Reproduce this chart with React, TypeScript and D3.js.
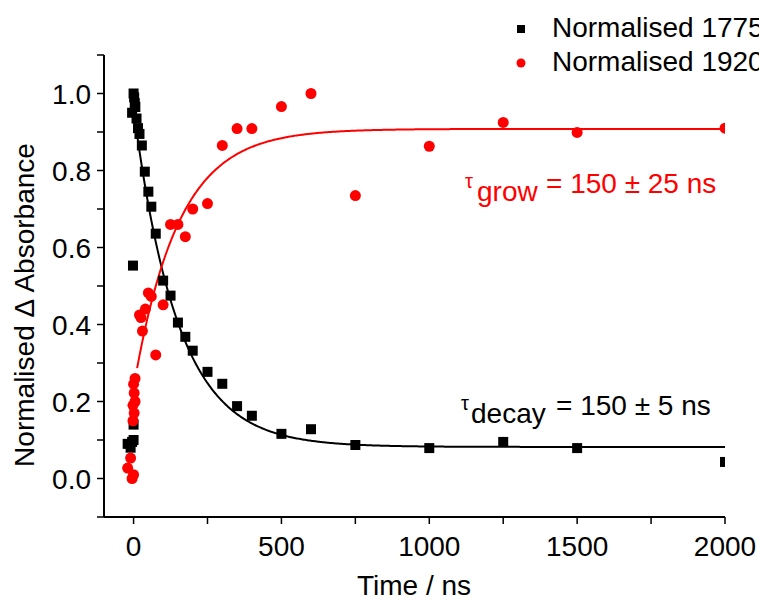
import * as d3 from "d3";

// Normalised 1775 cm-1 (black squares): [time ns, value]
const decayTimes = [-20, -10, -5, 0, 0, -2, 0, 2, 4, -5, 6, 10, 15, 20, 28, 38, 50, 60, 75, 100, 125, 150, 175, 200, 250, 300, 350, 400, 500, 600, 750, 1000, 1250, 1500, 2000];
const decayValues = [0.09, 0.08, 0.095, 0.1, 0.14, 0.553, 1.0, 0.99, 0.975, 0.95, 0.965, 0.935, 0.91, 0.895, 0.865, 0.797, 0.745, 0.706, 0.636, 0.514, 0.475, 0.405, 0.368, 0.332, 0.277, 0.246, 0.188, 0.163, 0.116, 0.128, 0.087, 0.079, 0.095, 0.079, 0.043];

// Normalised 1920 cm-1 (red circles)
const growTimes = [-20, -10, -5, 0, 5, 0, 2, 5, -2, 2, -2, 20, 25, 30, 40, 50, 60, 75, 100, 125, 150, 175, 200, 250, 300, 350, 400, 500, 600, 750, 1000, 1250, 1500, 2000];
const growValues = [0.027, 0.053, 0.0, 0.01, 0.26, 0.245, 0.222, 0.2, 0.19, 0.17, 0.15, 0.425, 0.418, 0.383, 0.44, 0.482, 0.473, 0.321, 0.451, 0.66, 0.66, 0.628, 0.7, 0.714, 0.865, 0.909, 0.909, 0.966, 1.0, 0.735, 0.863, 0.925, 0.899, 0.91];

// fit parameters
const decayFit = { y0: 0.082, a: 0.878, tau: 150, start: 0 };
const growFit = { y0: 0.908, a: 0.673, tau: 150, start: 10 };

const xTicks = [0, 500, 1000, 1500, 2000];
const xMinor = [250, 750, 1250, 1750];
const yTicks = [0.0, 0.2, 0.4, 0.6, 0.8, 1.0];
const yMinor = [-0.1, 0.1, 0.3, 0.5, 0.7, 0.9, 1.1];

const FONT = "'Liberation Sans', Arial, sans-serif";

export default function App() {
  const left = 104;
  const right = 725;
  const top = 55;
  const bottom = 517;

  const x = d3.scaleLinear().domain([-100, 2000]).range([left, right]);
  const y = d3.scaleLinear().domain([-0.1, 1.1]).range([bottom, top]);

  const fitTimes = d3.range(0, 2001, 4);
  const line = d3
    .line<number[]>()
    .x((d) => x(d[0]))
    .y((d) => y(d[1]));

  const decayLine = fitTimes
    .filter((t) => t >= decayFit.start)
    .map((t) => [t, decayFit.y0 + decayFit.a * Math.exp(-t / decayFit.tau)]);
  const growLine = fitTimes
    .filter((t) => t >= growFit.start)
    .map((t) => [t, growFit.y0 - growFit.a * Math.exp(-t / growFit.tau)]);

  const sq = 10;

  return (
    <svg
      width={759}
      height={603}
      style={{ position: "absolute", left: 0, top: 0, background: "#fff" }}
      fontFamily={FONT}
    >
      <defs>
        <clipPath id="plot">
          <rect x={left} y={top - 10} width={right - left} height={bottom - top + 10} />
        </clipPath>
      </defs>

      {/* axes */}
      <line x1={left} x2={left} y1={top} y2={bottom} stroke="#000" strokeWidth={2} />
      <line x1={left} x2={right} y1={bottom} y2={bottom} stroke="#000" strokeWidth={2} />

      {yTicks.concat(yMinor).map((t) => (
        <line key={"yt" + t} x1={left - 7} x2={left} y1={y(t)} y2={y(t)} stroke="#000" strokeWidth={1.5} />
      ))}
      {yTicks.map((t) => (
        <text key={"yl" + t} x={left - 13} y={y(t) + 10} textAnchor="end" fontSize={28} fill="#000">
          {t.toFixed(1)}
        </text>
      ))}

      {xTicks.concat(xMinor).map((t) => (
        <line key={"xt" + t} x1={x(t)} x2={x(t)} y1={bottom} y2={bottom + 7} stroke="#000" strokeWidth={1.5} />
      ))}
      {xTicks.map((t) => (
        <text key={"xl" + t} x={x(t)} y={556} textAnchor="middle" fontSize={28} fill="#000">
          {t}
        </text>
      ))}

      <text x={414} y={595} textAnchor="middle" fontSize={28} fill="#000">
        Time / ns
      </text>
      <text
        transform={`translate(34,305) rotate(-90)`}
        textAnchor="middle"
        fontSize={28}
        fill="#000"
      >
        Normalised Δ Absorbance
      </text>

      <g clipPath="url(#plot)">
        <path d={line(decayLine) ?? ""} fill="none" stroke="#000" strokeWidth={2} />
        <path d={line(growLine) ?? ""} fill="none" stroke="#ff0000" strokeWidth={2} />

        {decayTimes.map((t, i) => (
          <rect
            key={"d" + i}
            x={x(t) - sq / 2}
            y={y(decayValues[i]) - sq / 2}
            width={sq}
            height={sq}
            fill="#000"
          />
        ))}
        {growTimes.map((t, i) => (
          <circle key={"g" + i} cx={x(t)} cy={y(growValues[i])} r={5.5} fill="#ff0000" />
        ))}
      </g>

      {/* annotations */}
      <g fill="#ff0000">
        <text x={465} y={188} fontSize={20}>τ</text>
        <text x={477} y={201} fontSize={28}>grow</text>
        <text x={546} y={193} fontSize={28}>= 150 ± 25 ns</text>
      </g>
      <g fill="#000">
        <text x={461} y={410} fontSize={20}>τ</text>
        <text x={471} y={423} fontSize={28}>decay</text>
        <text x={556} y={415} fontSize={28}>= 150 ± 5 ns</text>
      </g>

      {/* legend */}
      <rect x={517} y={25} width={8} height={8} fill="#000" />
      <text x={552} y={37} fontSize={28} fill="#000">
        Normalised 1775 cm⁻¹
      </text>
      <circle cx={521} cy={63} r={4.5} fill="#ff0000" />
      <text x={552} y={71} fontSize={28} fill="#000">
        Normalised 1920 cm⁻¹
      </text>
    </svg>
  );
}
